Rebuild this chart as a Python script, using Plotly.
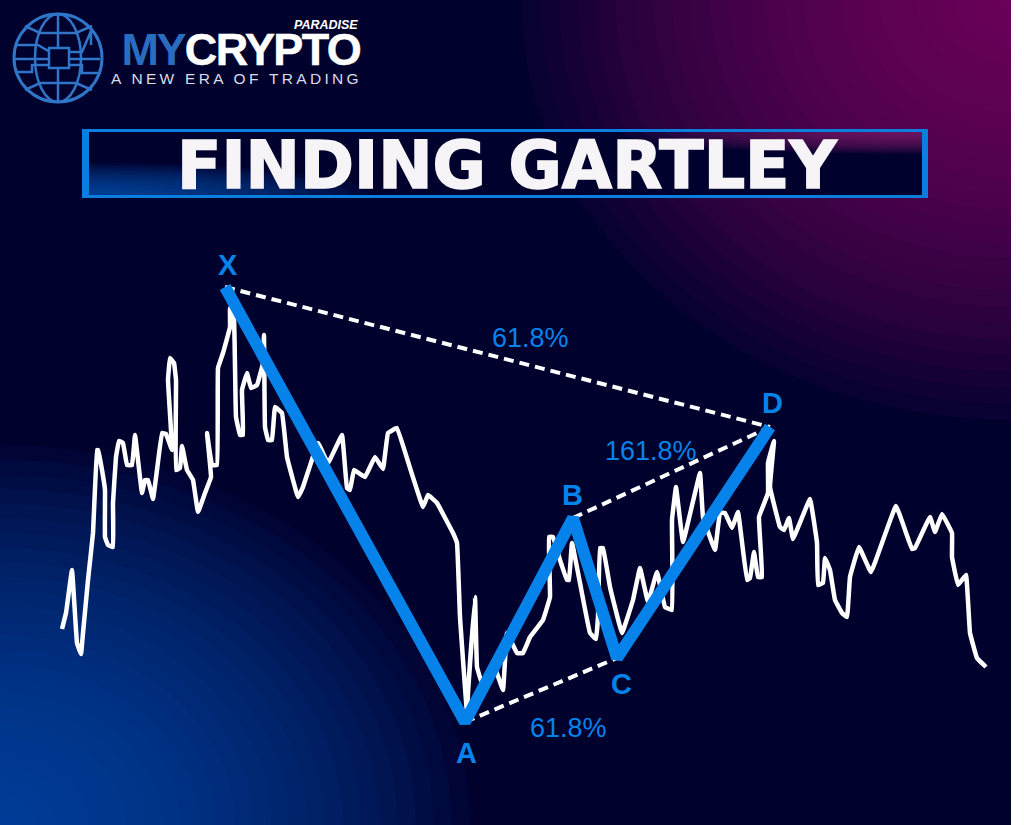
import numpy as np
import plotly.graph_objects as go

# ---- data ----
price_x = [62,66,72,77,81,83,88,93,97,98,102,105,105,108,113,113,116,119,123,127,132,135,138,142,145,148,153,157,162,166,172,168,170,174,176,176,180,182,187,193,198,205,211,207,212,217,218,223,230,230,234,236,240,243,242,247,251,257,263,264,265,268,272,275,282,287,298,303,318,328,342,347,350,354,365,370,
           375,383,388,397,410,423,428,437,453,457,460,467,468,475,477,482,493,503,507,517,523,530,543,550,549,553,560,567,569,572,580,590,596,598,600,603,610,622,633,640,648,657,665,672,672,676,683,700,703,715,720,725,732,738,747,750,754,758,762,759,768,768,774,770,780,784,789,793,810,817,818,823,825,830,835,842,847,850,859,871,896,912,915,930,935,942,952,952,958,966,970,977,986]
price_y = [629,613,570,643,654,633,580,533,450,450,470,490,537,545,547,503,457,441,443,465,465,435,460,493,480,480,499,470,433,434,450,380,358,363,380,470,468,446,470,480,512,493,477,433,465,465,368,353,327,308,320,417,435,435,390,373,388,385,363,335,427,440,440,407,413,457,497,487,443,463,435,488,490,470,477,467,
           457,469,433,428,468,507,495,503,533,543,617,713,693,597,667,683,663,690,633,653,653,637,620,597,537,537,560,580,580,543,583,633,639,617,548,548,587,633,600,568,602,572,607,610,520,487,542,473,517,550,513,513,528,512,580,578,552,577,577,517,493,463,441,487,527,530,518,539,499,543,585,583,558,570,600,613,617,577,547,572,506,549,548,517,532,514,533,557,585,575,633,658,667]
gartley_labels = ["X", "A", "B", "C", "D"]
gartley_x = [225, 465, 573, 617, 770]
gartley_y = [287, 722, 518, 658, 427]
ratio_labels = ["61.8%", "161.8%", "61.8%"]
ratio_x = [530, 651, 568]
ratio_y = [338, 451, 728]
point_label_x = [228, 466, 572, 621, 772]
point_label_y = [265, 753, 495, 684, 403]
title_text = "FINDING GARTLEY"

BG = "#01012e"
BLUE = "#0683ea"
LOGO = "#2f75c8"

shapes, annos = [], []


def poly(pts, **kw):
    d = "M" + " L".join(f"{x:.1f},{y:.1f}" for x, y in pts) + " Z"
    shapes.append(dict(type="path", path=d, xref="x", yref="y", layer="below", line_width=0, **kw))


def glow(cx, cy, rx, ry, rgb, alpha, n=26, clip=None):
    """Banded radial glow built from stacked translucent ellipses."""
    t = np.linspace(0, 2 * np.pi, 90)
    for i in range(n):
        k = 1 - i / n
        px = cx + rx * k * np.cos(t)
        py = cy + ry * k * np.sin(t)
        if clip:
            px = np.clip(px, clip[0], clip[2])
            py = np.clip(py, clip[1], clip[3])
        poly(list(zip(px, py)), fillcolor=f"rgba({rgb},{alpha})")


# page background glows
glow(0, 825, 470, 380, "0,88,180", 0.06)
glow(1011, 0, 490, 420, "140,26,112", 0.055)
# right edge of the page outside the artwork
shapes.append(dict(type="rect", x0=1011, x1=1024, y0=0, y1=825, xref="x", yref="y",
                   layer="below", fillcolor="white", line_width=0))

# title box: blue frame with thicker sides, dark inner panel
shapes.append(dict(type="rect", x0=82, x1=928, y0=129, y1=198, xref="x", yref="y",
                   layer="below", fillcolor="#0a7fe0", line_width=0))
box = (89, 132, 922, 195)
shapes.append(dict(type="rect", x0=box[0], x1=box[2], y0=box[1], y1=box[3], xref="x", yref="y",
                   layer="below", fillcolor=BG, line_width=0))
glow(90, 195, 280, 32, "0,92,187", 0.09, n=14, clip=box)
glow(922, 132, 300, 22, "140,26,112", 0.11, n=14, clip=box)


# logo globe
def logo_line(pts, w=2.5):
    d = "M" + " L".join(f"{x},{y}" for x, y in pts)
    shapes.append(dict(type="path", path=d, xref="x", yref="y", layer="above", line=dict(color=LOGO, width=w)))


def logo_ell(cx, cy, rx, ry, w=2.5):
    shapes.append(dict(type="circle", x0=cx-rx, x1=cx+rx, y0=cy-ry, y1=cy+ry, xref="x", yref="y",
                       layer="above", line=dict(color=LOGO, width=w)))


logo_ell(58, 58, 44, 44, 3)
logo_ell(58, 58, 23, 44, 2.5)
logo_line([(58, 14), (58, 47)])
logo_line([(58, 68), (58, 102)])
logo_line([(25, 26), (40, 33), (76, 33), (92, 26)])
logo_line([(25, 90), (40, 83), (76, 83), (92, 90)])
logo_line([(15, 45), (38, 45), (50, 52)])
logo_line([(15, 59), (48, 59)])
logo_line([(17, 72), (32, 72), (32, 65), (48, 65)])
logo_line([(68, 52), (82, 52), (91, 31), (91, 45)])
logo_line([(68, 59), (100, 59)])
logo_line([(68, 65), (82, 65), (82, 73), (98, 73)])
shapes.append(dict(type="rect", x0=49, x1=69, y0=48, y1=68, xref="x", yref="y", layer="above",
                   fillcolor=BG, line=dict(color=LOGO, width=2.5)))

SANS = "Liberation Sans, Arial, sans-serif"


def text(x, y, s, size, color, family=SANS, bold=False, italic=False, anchor="center"):
    annos.append(dict(x=x, y=y, xref="x", yref="y", text=s, showarrow=False, xanchor=anchor, yanchor="middle",
                      font=dict(size=size, color=color, family=family,
                                weight="bold" if bold else "normal",
                                style="italic" if italic else "normal"),
                      borderpad=0))


text(153, 49, "MY", 45, "#2a6cbf", bold=True)
text(272.5, 49, "CRYPTO", 45, "#ffffff", bold=True)
text(359, 25, "PARADISE", 12.5, "#ffffff", bold=True, italic=True, anchor="right")
text(236.5, 78, "A NEW ERA OF TRADING", 15.5, "#d9dce6")
text(507, 165, title_text, 65, "#f6f4f6", family="DejaVu Sans, sans-serif", bold=True)

for lab, x, y in zip(gartley_labels, point_label_x, point_label_y):
    text(x, y, lab, 29, BLUE, bold=True)
for lab, x, y in zip(ratio_labels, ratio_x, ratio_y):
    text(x, y, lab, 27, BLUE)

fig = go.Figure()
fig.add_trace(go.Scatter(x=price_x, y=price_y, mode="lines",
                         line=dict(color="white", width=4.5, shape="spline", smoothing=0.2),
                         hoverinfo="skip", showlegend=False))
for i, j in [(0, 4), (2, 4), (1, 3)]:
    fig.add_trace(go.Scatter(x=[gartley_x[i], gartley_x[j]], y=[gartley_y[i], gartley_y[j]], mode="lines",
                             line=dict(color="white", width=4, dash="10px,6px"),
                             hoverinfo="skip", showlegend=False))
fig.add_trace(go.Scatter(x=gartley_x, y=gartley_y, mode="lines", line=dict(color=BLUE, width=12),
                         hoverinfo="skip", showlegend=False))

fig.update_layout(
    width=1024, height=825, margin=dict(l=0, r=0, t=0, b=0),
    paper_bgcolor=BG, plot_bgcolor="rgba(0,0,0,0)", showlegend=False,
    xaxis=dict(range=[0, 1024], visible=False, fixedrange=True),
    yaxis=dict(range=[825, 0], visible=False, fixedrange=True),
    shapes=shapes, annotations=annos,
)
post = """
document.body.style.margin='0';
document.querySelectorAll('.annotation-text').forEach(function(t){
  var s=t.textContent;
  if(s==='A NEW ERA OF TRADING'){t.style.letterSpacing='3.3px';}
  if(s==='MY'){t.style.letterSpacing='-2.5px';}
  if(s==='CRYPTO'){t.style.letterSpacing='-1.6px';t.style.stroke='#ffffff';t.style.strokeWidth='0.5px';}
  if(s==='FINDING GARTLEY'){t.style.stroke='#f6f4f6';t.style.strokeWidth='1.6px';}
});
var ls=document.querySelectorAll('.scatterlayer .trace');
var p=ls[ls.length-1].querySelector('path.js-line');
if(p){p.style.strokeLinejoin='bevel';p.style.strokeLinecap='butt';}
"""
fig.write_html("out.html", post_script=post, config={"displayModeBar": False})
